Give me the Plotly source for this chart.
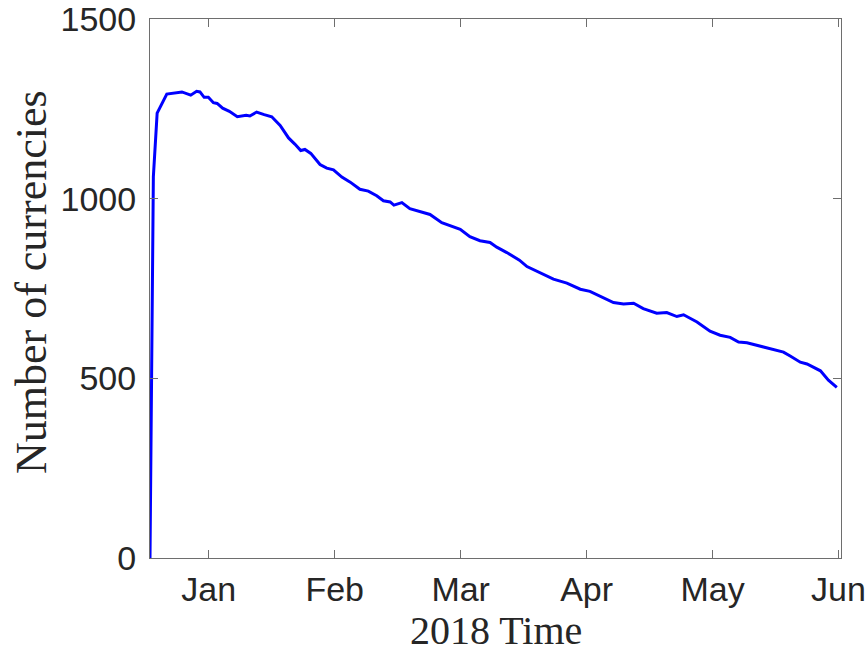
import plotly.graph_objects as go

# Day index (0 = start of series, ~mid Dec 2017), tick spacing 30 units per month
days = [0, 0.8, 1.7, 4.0, 7.6, 9.7, 11.1, 11.9, 12.9, 13.9, 15.1, 16.0, 17.3, 18.9,
        20.8, 22.9, 23.8, 25.4, 27.2, 29.0, 31.0, 33.0, 34.5, 35.9, 36.9, 38.3,
        40.5, 42.1, 43.7, 45.7, 47.7, 50.0, 52.0, 54.0, 55.6, 57.2, 58.1, 60.0,
        61.9, 64.3, 66.7, 69.5, 71.9, 73.9, 76.2, 78.6, 81.0, 82.6, 85.0, 86.6,
        88.0, 89.8, 92.9, 96.1, 99.3, 102.5, 104.8, 107.2, 110.4, 112.8, 115.2,
        117.5, 120.7, 123.1, 125.5, 127.1, 130.3, 133.4, 135.8, 138.2, 140.2,
        142.2, 145.3, 147.7, 150.9, 152.5, 154.9, 156.5, 159.7, 161.6, 163.6]
currencies = [0, 1061, 1238, 1291, 1297, 1288, 1299, 1297, 1282, 1282, 1267, 1265,
              1252, 1243, 1228, 1232, 1230, 1241, 1234, 1228, 1204, 1169, 1152,
              1134, 1137, 1126, 1095, 1085, 1080, 1060, 1046, 1026, 1021, 1008,
              994, 991, 982, 989, 972, 965, 956, 933, 924, 915, 894, 883, 878,
              865, 850, 839, 829, 811, 794, 776, 765, 748, 742, 729, 711, 707,
              709, 694, 681, 683, 672, 677, 657, 631, 620, 614, 601, 599, 590,
              581, 573, 562, 545, 540, 521, 495, 475]

tick_vals = [14, 44, 74, 104, 134, 164]
tick_text = ["Jan", "Feb", "Mar", "Apr", "May", "Jun"]
y_ticks = [0, 500, 1000, 1500]
x_title = "2018 Time"
y_title = "Number of currencies"

fig = go.Figure()
fig.add_trace(go.Scatter(x=days, y=currencies, mode="lines",
                         line=dict(color="#0000FF", width=3)))

axis_common = dict(showline=True, linecolor="#6e6e6e", linewidth=1, mirror="ticks",
                   ticks="inside", ticklen=8, tickcolor="#6e6e6e", showgrid=False,
                   zeroline=False, automargin=False, ticklabeloverflow="allow",
                   tickfont=dict(family="Liberation Sans, Arial", size=34, color="#262626"))

L, R, T, B = 150, 25, 19, 95
W, H = 866, 653
pw, ph = W - L - R, H - T - B

fig.update_layout(
    width=W, height=H,
    margin=dict(l=L, r=R, t=T, b=B),
    paper_bgcolor="white", plot_bgcolor="white",
    showlegend=False,
    xaxis=dict(range=[0, 164.6], tickvals=tick_vals, ticktext=tick_text,
               ticklabelstandoff=1, **axis_common),
    yaxis=dict(range=[0, 1500], tickvals=y_ticks, ticklabelstandoff=6,
               **axis_common),
    annotations=[
        dict(text=x_title, xref="paper", yref="paper", showarrow=False,
             x=(496 - L) / pw, y=(T + ph - 630) / ph, xanchor="center", yanchor="middle",
             font=dict(family="Liberation Serif", size=40, color="#262626")),
        dict(text=y_title, xref="paper", yref="paper", showarrow=False, textangle=-90,
             x=(31 - L) / pw, y=(T + ph - 282) / ph, xanchor="center", yanchor="middle",
             font=dict(family="Liberation Serif", size=44, color="#262626")),
    ],
)

fig.write_html("out.html", config={"displayModeBar": False},
               post_script="document.body.style.margin='0';document.body.style.padding='0';")
